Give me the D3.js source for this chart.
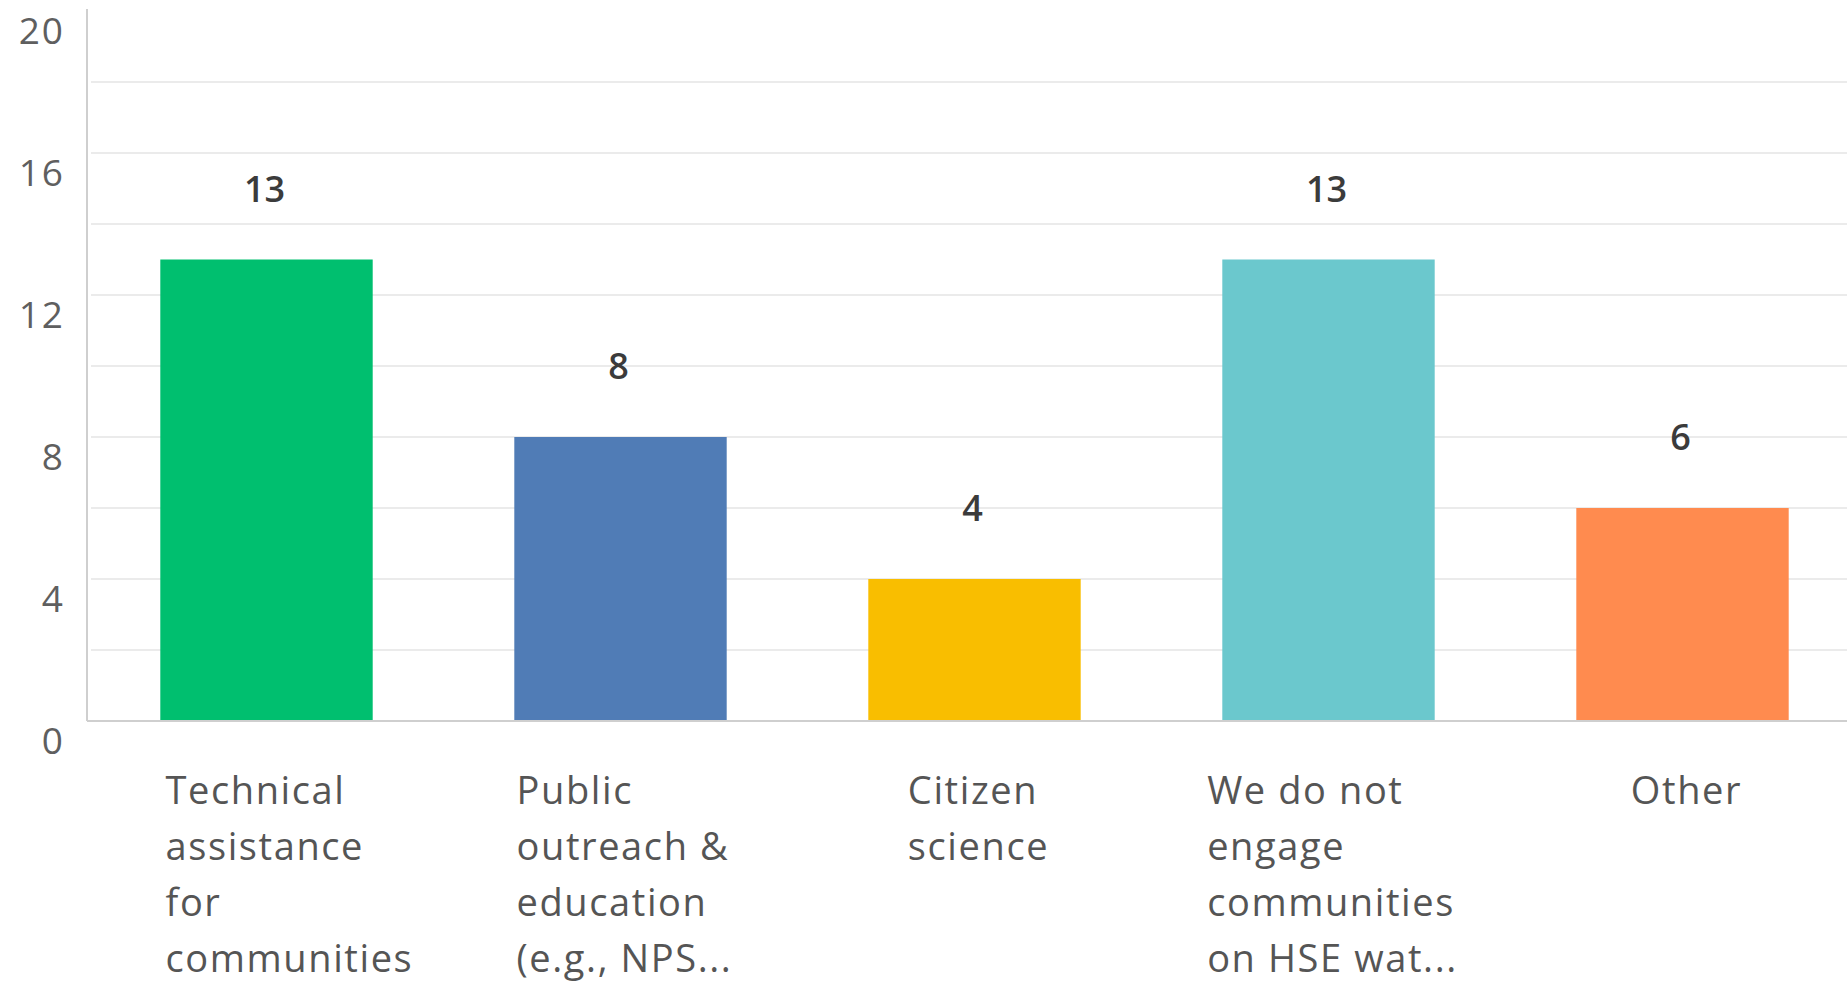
<!DOCTYPE html>
<html>
<head>
<meta charset="utf-8">
<script src="https://cdn.jsdelivr.net/npm/d3@7"></script>
<style>
  html, body { margin: 0; padding: 0; background: #fff; }
  svg { display: block; }
</style>
</head>
<body>
<svg id="chart" width="1847" height="984"></svg>
<script>
// Survey responses: how organisations engage communities
const categories = [
  "Technical assistance for communities",
  "Public outreach & education (e.g., NPS...",
  "Citizen science",
  "We do not engage communities on HSE wat...",
  "Other"
];
// Wrapped label lines as shown under each bar
const categoryLines = [
  ["Technical", "assistance", "for", "communities"],
  ["Public", "outreach &", "education", "(e.g., NPS..."],
  ["Citizen", "science"],
  ["We do not", "engage", "communities", "on HSE wat..."],
  ["Other"]
];
const values = [13, 8, 4, 13, 6];
const colors = ["#00bf6f", "#507cb6", "#f9be00", "#6bc8cd", "#ff8b4f"];
const yTickLabels = [0, 4, 8, 12, 16, 20];
const gridValues = [2, 4, 6, 8, 10, 12, 14, 16, 18];

const svg = d3.select("#chart");
const W = 1847, H = 984;
const axisX = 87, left = 89.5, bandStep = 354;
const baseY = 721, topY = 11;

const x = d3.scaleBand()
  .domain(categories)
  .range([left, left + bandStep * categories.length])
  .paddingInner(0.4)
  .paddingOuter(0.2);

const y = d3.scaleLinear().domain([0, 20]).range([baseY, topY]);

const FONT = "'Open Sans', sans-serif";

// horizontal grid
svg.append("g")
  .selectAll("line")
  .data(gridValues)
  .join("line")
  .attr("x1", axisX + 4)
  .attr("x2", W)
  .attr("y1", d => y(d))
  .attr("y2", d => y(d))
  .attr("stroke", "#ebebeb")
  .attr("stroke-width", 2);

// bars
svg.append("g")
  .selectAll("rect")
  .data(values)
  .join("rect")
  .attr("x", (d, i) => x(categories[i]))
  .attr("width", x.bandwidth())
  .attr("y", d => y(d))
  .attr("height", d => y(0) - y(d))
  .attr("fill", (d, i) => colors[i]);

// value labels
svg.append("g")
  .selectAll("text")
  .data(values)
  .join("text")
  .attr("x", (d, i) => x(categories[i]) + x.bandwidth() / 2 - 2)
  .attr("y", d => y(d) - 58)
  .attr("text-anchor", "middle")
  .attr("font-family", FONT)
  .attr("font-size", 36)
  .attr("font-weight", 600)
  .attr("fill", "#3b3b3b")
  .text(d => d);

// axis lines
svg.append("line")
  .attr("x1", axisX).attr("x2", axisX)
  .attr("y1", 9).attr("y2", baseY)
  .attr("stroke", "#cfcfcf").attr("stroke-width", 2);
svg.append("line")
  .attr("x1", axisX).attr("x2", W)
  .attr("y1", baseY).attr("y2", baseY)
  .attr("stroke", "#cfcfcf").attr("stroke-width", 2);

// y tick labels (drawn just below each tick value)
const yAxis = d3.axisLeft(y).tickValues(yTickLabels).tickSize(0).tickPadding(0);
const gy = svg.append("g").attr("transform", `translate(65,21)`).call(yAxis);
gy.select(".domain").remove();
gy.selectAll("text")
  .attr("font-family", FONT)
  .attr("font-size", 37)
  .attr("letter-spacing", 2)
  .attr("fill", "#5f5f5f");

// category labels: left-aligned lines in a block centred under the bar;
// a single word wider than the wrap width overflows to the right
const wrapW = 210;
const catG = svg.append("g");
categories.forEach((c, i) => {
  const t = catG.append("text")
    .attr("font-family", FONT)
    .attr("font-size", 38)
    .attr("letter-spacing", 1.6)
    .attr("fill", "#555");
  categoryLines[i].forEach((ln, j) => {
    t.append("tspan").attr("y", 804 + j * 56).attr("x", 0).text(ln);
  });
  let blockW = 0;
  t.selectAll("tspan").each(function () {
    const w = this.getComputedTextLength();
    const txt = this.textContent;
    blockW = Math.max(blockW, txt.includes(" ") ? w : Math.min(w, wrapW));
  });
  const cx = x(c) + x.bandwidth() / 2 + 4;
  t.selectAll("tspan").attr("x", cx - blockW / 2);
});
</script>
</body>
</html>
